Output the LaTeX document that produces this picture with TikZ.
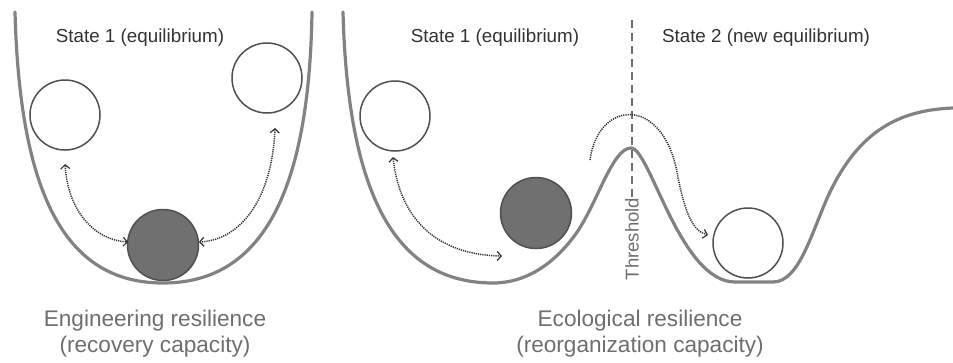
\documentclass[tikz,border=0pt]{standalone}
\usepackage{fontspec}
\setmainfont{Liberation Sans}
\usetikzlibrary{arrows.meta}
\definecolor{valley}{RGB}{130,130,130}
\definecolor{ballline}{RGB}{80,80,80}
\definecolor{ballfill}{RGB}{112,112,112}
\definecolor{toptext}{RGB}{50,50,50}
\definecolor{bottext}{RGB}{110,110,110}
\definecolor{thrcol}{RGB}{110,110,110}
\tikzset{
  landscape/.style={draw=valley, line width=3.2pt, line cap=round, line join=round},
  openball/.style={circle, draw=ballline, line width=1.5pt, fill=white, minimum size=70pt, inner sep=0pt},
  fullball/.style={circle, draw=ballline, line width=1.5pt, fill=ballfill, minimum size=71pt, inner sep=0pt},
  motion/.style={draw=black!80, line width=1.5pt, dash pattern=on 1.2pt off 1pt},
  both/.style={motion, {Straight Barb[length=4pt,width=9pt,line width=1.2pt]}-{Straight Barb[length=4pt,width=9pt,line width=1.2pt]}},
  fwd/.style={motion, -{Straight Barb[length=4pt,width=9pt,line width=1.2pt]}},
  statelabel/.style={text=toptext, font=\fontsize{18.8}{21}\selectfont, inner sep=0pt},
  caption/.style={text=bottext, font=\fontsize{22.6}{26}\selectfont, align=center, inner sep=0pt},
}
\begin{document}
\begin{tikzpicture}[x=1pt,y=-1pt]
\useasboundingbox (0,0) rectangle (953,362);
% left valley
\draw[landscape] (15,12) .. controls (20,200) and (68,283) .. (163,283)
   .. controls (258,283) and (309,200) .. (312,12);
% right landscape
\draw[landscape] (343,12) .. controls (348,200) and (398,283) .. (493,283)
   .. controls (525,283) and (553,265) .. (575,235)
   .. controls (597,205) and (612,148) .. (631,148)
   .. controls (650,148) and (680,282) .. (735,282) -- (773,282)
   .. controls (800,282) and (812,230) .. (830,192)
   .. controls (860,130) and (900,110) .. (953,108);
% threshold
\node[text=thrcol, rotate=90, font=\fontsize{18.5}{20}\selectfont, inner sep=0pt] (thr) at (632,239) {Threshold};
\coordinate (thrtop) at (632,20);
\draw[draw=thrcol, line width=1.3pt, dash pattern=on 8pt off 5pt] (thrtop) -- (thr.east);
% balls left panel
\node[openball] (lb1) at (65,115) {};
\node[openball] (lb2) at (267,78) {};
\node[fullball] (lb0) at (163,245) {};
% balls right panel
\node[openball] (rb1) at (395,116) {};
\node[fullball] (rb0) at (536,213) {};
\node[openball] (rb2) at (748,243) {};
% arrows left
\coordinate (a1s) at (65,164);
\coordinate (a1e) at (128,242);
\coordinate (a2s) at (275,128);
\coordinate (a2e) at (199,242);
\draw[both] (a1s) .. controls (68,212) and (95,240) .. (a1e);
\draw[both] (a2s) .. controls (272,200) and (240,240) .. (a2e);
% arrows right
\coordinate (a3s) at (393,157);
\coordinate (a3e) at (502,256);
\draw[both] (a3s) .. controls (400,222) and (440,255) .. (a3e);
\coordinate (a4s) at (590,160);
\coordinate (a4e) at (708,235);
\draw[fwd] (a4s) .. controls (598,100) and (662,95) .. (677,172) .. controls (684,210) and (692,231) .. (a4e);
% labels
\node[statelabel] (s1a) at (140,38) {State 1 (equilibrium)};
\node[statelabel] (s1b) at (495,38) {State 1 (equilibrium)};
\node[statelabel] (s2) at (766,38) {State 2 (new equilibrium)};
\node[caption] (capl) at (155,334) {Engineering resilience\\(recovery capacity)};
\node[caption] (capr) at (640,334) {Ecological resilience\\(reorganization capacity)};
\end{tikzpicture}
\end{document}
